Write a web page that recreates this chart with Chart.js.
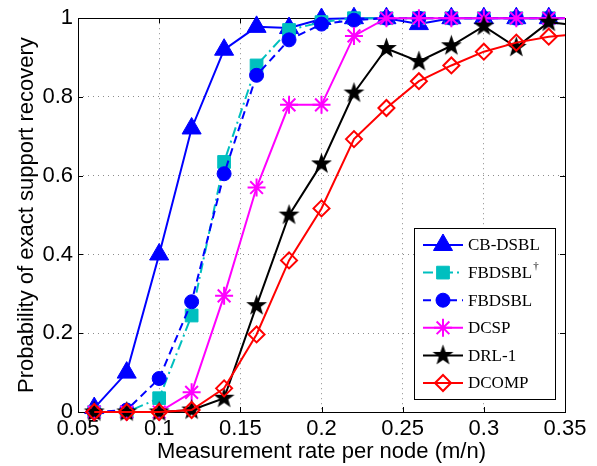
<!DOCTYPE html>
<html>
<head>
<meta charset="utf-8">
<script src="https://cdn.jsdelivr.net/npm/chart.js@4/dist/chart.umd.min.js"></script>
<style>
	html, body { margin: 0; padding: 0; background: #fff; }
	#wrap { width: 597px; height: 466px; }
</style>
</head>
<body>
<div id="wrap"><canvas id="rateChart" width="597" height="466"></canvas></div>
<script>
// measurement rate per node (last point lies past the axis edge, line gets clipped there)
var rates = [0.06, 0.08, 0.10, 0.12, 0.14, 0.16, 0.18, 0.20, 0.22, 0.24, 0.26, 0.28, 0.30, 0.32, 0.34, 0.36];

var cbDsbl = [0.01, 0.10, 0.40, 0.72, 0.92, 0.978, 0.975, 0.998, 1, 1, 0.985, 1, 1, 1, 1, 1];
var fbDsblDagger = [0, 0, 0.035, 0.245, 0.635, 0.88, 0.97, 0.99, 1, 1, 1, 1, 1, 1, 1, 1];
var fbDsbl = [0, 0.005, 0.085, 0.28, 0.605, 0.855, 0.945, 0.985, 0.995, 1, 1, 1, 1, 1, 1, 1];
var dcsp = [0, 0, 0, 0.05, 0.295, 0.57, 0.78, 0.78, 0.955, 1, 1, 1, 1, 1, 1, 1];
var drl1 = [0, 0, 0, 0.005, 0.035, 0.27, 0.50, 0.63, 0.81, 0.923, 0.89, 0.93, 0.98, 0.926, 0.99, 0.98];
var dcomp = [0, 0, 0, 0.005, 0.06, 0.197, 0.385, 0.517, 0.693, 0.772, 0.84, 0.88, 0.915, 0.938, 0.953, 0.96];

var xTicks = [0.05, 0.1, 0.15, 0.2, 0.25, 0.3, 0.35];
var xTickLabels = ['0.05', '0.1', '0.15', '0.2', '0.25', '0.3', '0.35'];
var yTicks = [0, 0.2, 0.4, 0.6, 0.8, 1];
var yTickLabels = ['0', '0.2', '0.4', '0.6', '0.8', '1'];

// black pentagram marker, chart.js has no 5 point star
function makePentagram(size, color) {
	var c = document.createElement('canvas');
	c.width = size;
	c.height = size;
	var g = c.getContext('2d');
	var R = size / 2 - 0.5, r = R * 0.4, cx = size / 2, cy = size / 2;
	g.beginPath();
	for (let i = 0; i < 10; i++) {
		let rad = (i % 2 === 0) ? R : r;
		let a = -Math.PI / 2 + i * Math.PI / 5;
		let px = cx + rad * Math.cos(a), py = cy + rad * Math.sin(a);
		if (i === 0) g.moveTo(px, py); else g.lineTo(px, py);
	}
	g.closePath();
	g.fillStyle = color;
	g.fill();
	return c;
}
var pentagram = makePentagram(23, '#000000');

function series(label, values, color, opts) {
	return Object.assign({
		label: label,
		data: values.map((v, i) => ({x: rates[i], y: v})),
		borderColor: color,
		backgroundColor: color,
		borderWidth: 2,
		pointBorderColor: color,
		pointBackgroundColor: color,
		pointBorderWidth: 1,
		pointHoverRadius: 0,
		tension: 0,
		clip: {left: false, top: false, right: 0, bottom: false}
	}, opts);
}

var datasets = [
	series('CB-DSBL', cbDsbl, '#0000FF', {pointStyle: 'triangle', pointRadius: 11, order: 5}),
	series('FBDSBL†', fbDsblDagger, '#00BFBF', {pointStyle: 'rect', pointRadius: 9, borderDash: [10, 4, 2, 4], order: 4}),
	series('FBDSBL', fbDsbl, '#0000FF', {pointStyle: 'circle', pointRadius: 7, borderDash: [8, 5], order: 3}),
	series('DCSP', dcsp, '#FF00FF', {pointStyle: 'star', pointRadius: 9, pointBorderWidth: 2, order: 2}),
	series('DRL-1', drl1, '#000000', {pointStyle: pentagram, pointRadius: 11, order: 1}),
	series('DCOMP', dcomp, '#FF0000', {pointStyle: 'rectRot', pointRadius: 8, pointBorderWidth: 2, pointBackgroundColor: 'rgba(0,0,0,0)', order: 0})
];

// box round the plot area and inward tick marks on all four sides
var frameTicks = {
	id: 'frameTicks',
	beforeDatasetsDraw: function (chart) {
		var ctx = chart.ctx, a = chart.chartArea;
		var xs = chart.scales.x, ys = chart.scales.y;
		ctx.save();
		ctx.strokeStyle = '#000';
		ctx.lineWidth = 1;
		ctx.beginPath();
		xTicks.forEach(function (v) {
			var px = Math.round(xs.getPixelForValue(v)) + 0.5;
			ctx.moveTo(px, a.bottom); ctx.lineTo(px, a.bottom - 5);
			ctx.moveTo(px, a.top); ctx.lineTo(px, a.top + 5);
		});
		yTicks.forEach(function (v) {
			var py = Math.round(ys.getPixelForValue(v)) + 0.5;
			ctx.moveTo(a.left, py); ctx.lineTo(a.left + 5, py);
			ctx.moveTo(a.right, py); ctx.lineTo(a.right - 5, py);
		});
		ctx.stroke();
		ctx.strokeRect(Math.round(a.left) + 0.5, Math.round(a.top) + 0.5, Math.round(a.right - a.left), Math.round(a.bottom - a.top));
		ctx.restore();
	}
};

// legend in the lower right corner: line sample with marker, serif text
var boxLegend = {
	id: 'boxLegend',
	afterDraw: function (chart) {
		var ctx = chart.ctx;
		var bx = 414, by = 228, bw = 141, bh = 171;
		ctx.save();
		ctx.fillStyle = '#fff';
		ctx.fillRect(bx, by, bw, bh);
		ctx.strokeStyle = '#000';
		ctx.lineWidth = 1;
		ctx.strokeRect(bx + 0.5, by + 0.5, bw, bh);
		chart.data.datasets.forEach(function (ds, i) {
			var y = 245 + i * 27.6;
			ctx.save();
			ctx.strokeStyle = ds.borderColor;
			ctx.lineWidth = ds.borderWidth;
			ctx.setLineDash(ds.borderDash || []);
			ctx.beginPath();
			ctx.moveTo(423, y);
			ctx.lineTo(463, y);
			ctx.stroke();
			ctx.setLineDash([]);
			ctx.fillStyle = ds.pointBackgroundColor;
			ctx.strokeStyle = ds.pointBorderColor;
			ctx.lineWidth = ds.pointBorderWidth;
			Chart.helpers.drawPoint(ctx, {
				pointStyle: ds.pointStyle,
				radius: ds.pointRadius,
				rotation: 0,
				borderWidth: ds.pointBorderWidth
			}, 443, y);
			ctx.restore();
			ctx.fillStyle = '#000';
			ctx.font = '17px "Liberation Serif", "DejaVu Serif", serif';
			ctx.textBaseline = 'middle';
			ctx.textAlign = 'left';
			if (ds.label.endsWith('†')) {
				var base = ds.label.slice(0, -1);
				ctx.fillText(base, 468, y + 1);
				var w = ctx.measureText(base).width;
				ctx.font = '11px "Liberation Serif", "DejaVu Serif", serif';
				ctx.fillText('†', 468 + w + 1, y - 6);
			} else {
				ctx.fillText(ds.label, 468, y + 1);
			}
		});
		ctx.restore();
	}
};

var axisFont = {family: '"Liberation Sans", Arial, sans-serif', size: 22};

var ctx = document.getElementById('rateChart').getContext('2d');
var rateChart = new Chart(ctx, {
	type: 'line',
	data: {datasets: datasets},
	options: {
		responsive: false,
		animation: false,
		events: [],
		layout: {
			autoPadding: false,
			padding: {left: 0, top: 12, right: 32, bottom: 0}
		},
		plugins: {
			legend: {display: false},
			tooltip: {enabled: false}
		},
		scales: {
			x: {
				type: 'linear',
				min: 0.05,
				max: 0.35,
				afterBuildTicks: function (scale) {
					scale.ticks = xTicks.map(v => ({value: v}));
				},
				afterFit: function (scale) {
					scale.height = 54;
				},
				ticks: {
					autoSkip: false,
					maxRotation: 0,
					padding: 4,
					color: '#000',
					font: axisFont,
					callback: function (value, index) {
						return xTickLabels[index];
					}
				},
				grid: {
					color: 'rgba(0,0,0,0.45)',
					lineWidth: 1,
					drawTicks: false
				},
				border: {display: false, dash: [1, 4]},
				title: {
					display: true,
					text: 'Measurement rate per node (m/n)',
					color: '#000',
					font: axisFont,
					padding: {top: 0, bottom: 1}
				}
			},
			y: {
				type: 'linear',
				min: 0,
				max: 1,
				afterBuildTicks: function (scale) {
					scale.ticks = yTicks.map(v => ({value: v}));
				},
				afterFit: function (scale) {
					scale.width = 78;
				},
				ticks: {
					padding: 5,
					color: '#000',
					font: axisFont,
					callback: function (value, index) {
						return yTickLabels[index];
					}
				},
				grid: {
					color: 'rgba(0,0,0,0.45)',
					lineWidth: 1,
					drawTicks: false
				},
				border: {display: false, dash: [1, 4]},
				title: {
					display: true,
					text: 'Probability of exact support recovery',
					color: '#000',
					font: axisFont,
					padding: {top: 14, bottom: 0}
				}
			}
		}
	},
	plugins: [frameTicks, boxLegend]
});
</script>
</body>
</html>
